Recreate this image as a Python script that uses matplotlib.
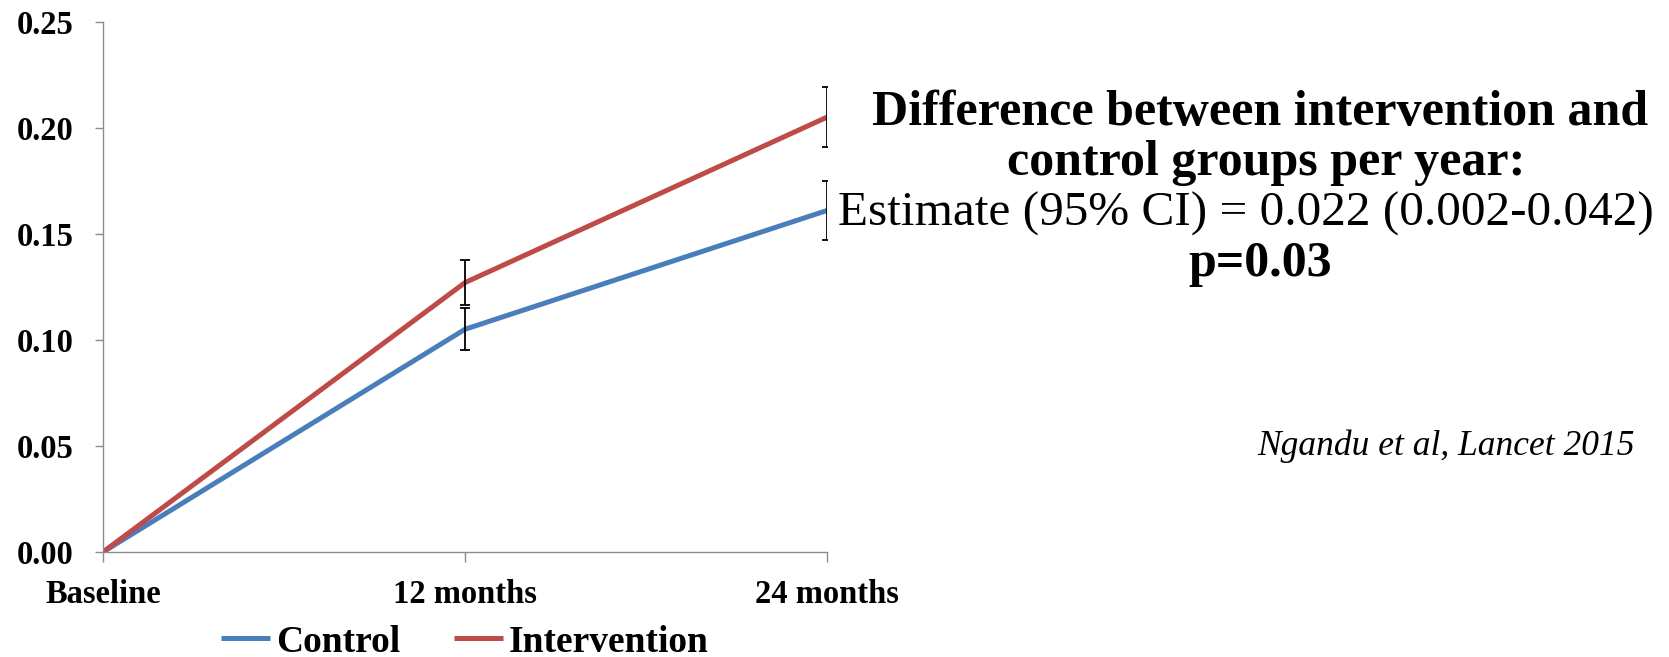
import matplotlib.pyplot as plt

# data: cognitive change from baseline, with 95% CI half-widths
categories = ['Baseline', '12 months', '24 months']
control = [0.0, 0.105, 0.161]
control_err = [0.0, 0.010, 0.014]
intervention = [0.0, 0.127, 0.205]
intervention_err = [0.0, 0.0105, 0.014]
yticks = [0.00, 0.05, 0.10, 0.15, 0.20, 0.25]

blue = '#4a7ebb'
red = '#be4b48'
grey = '#8c8c8c'
serif = 'Liberation Serif'

fig = plt.figure(figsize=(16.69, 6.57), dpi=100)
ax = fig.add_axes([103 / 1669, 1 - 552 / 657, (827 - 103) / 1669, (552 - 21.7) / 657])

x = list(range(len(categories)))
ax.plot(x, control, color=blue, lw=3.6, label='Control', solid_capstyle='butt')
ax.plot(x, intervention, color=red, lw=3.6, label='Intervention', solid_capstyle='butt')

# error bars only where there is an estimate (not at baseline)
ax.errorbar(x[1:], control[1:], yerr=control_err[1:], fmt='none', ecolor='black',
            elinewidth=1.3, capsize=3.6, capthick=1.3, zorder=5)
ax.errorbar(x[1:], intervention[1:], yerr=intervention_err[1:], fmt='none', ecolor='black',
            elinewidth=1.3, capsize=3.6, capthick=1.3, zorder=5)

ax.set_xlim(0, 2)
ax.set_ylim(0, 0.25)
ax.set_xticks(x)
ax.set_xticklabels(categories)
ax.set_yticks(yticks)
ax.set_yticklabels(['%.2f' % v for v in yticks])

for s in ['top', 'right']:
    ax.spines[s].set_visible(False)
for s in ['left', 'bottom']:
    ax.spines[s].set_color(grey)
    ax.spines[s].set_linewidth(1.0)

ax.tick_params(axis='y', length=6, width=1, color=grey, pad=15)
ax.tick_params(axis='x', length=7.2, width=1, color=grey, pad=12)
for lab in ax.get_xticklabels() + ax.get_yticklabels():
    lab.set_fontfamily(serif)
    lab.set_fontweight('bold')
    lab.set_fontsize(23.5)

leg = fig.legend(loc='center', bbox_to_anchor=(465 / 1669, 1 - 642 / 657), ncol=2,
                 frameon=False, handlelength=1.3, handletextpad=0.15, columnspacing=1.45,
                 prop={'family': serif, 'weight': 'bold', 'size': 27})

# annotation on the right
fig.text(1260 / 1669, 1 - 113 / 657, 'Difference between intervention and', ha='center', va='center',
         family=serif, weight='bold', size=36)
fig.text(1266 / 1669, 1 - 163 / 657, 'control groups per year:', ha='center', va='center',
         family=serif, weight='bold', size=36)
fig.text(1246 / 1669, 1 - 214 / 657, 'Estimate (95% CI) = 0.022 (0.002-0.042)', ha='center', va='center',
         family=serif, size=35.5)
fig.text(1260 / 1669, 1 - 264 / 657, 'p=0.03', ha='center', va='center',
         family=serif, weight='bold', size=36)
fig.text(1635 / 1669, 1 - 446 / 657, 'Ngandu et al, Lancet 2015', ha='right', va='center',
         family=serif, style='italic', size=25.5)

fig.savefig('out.png', dpi=100)
